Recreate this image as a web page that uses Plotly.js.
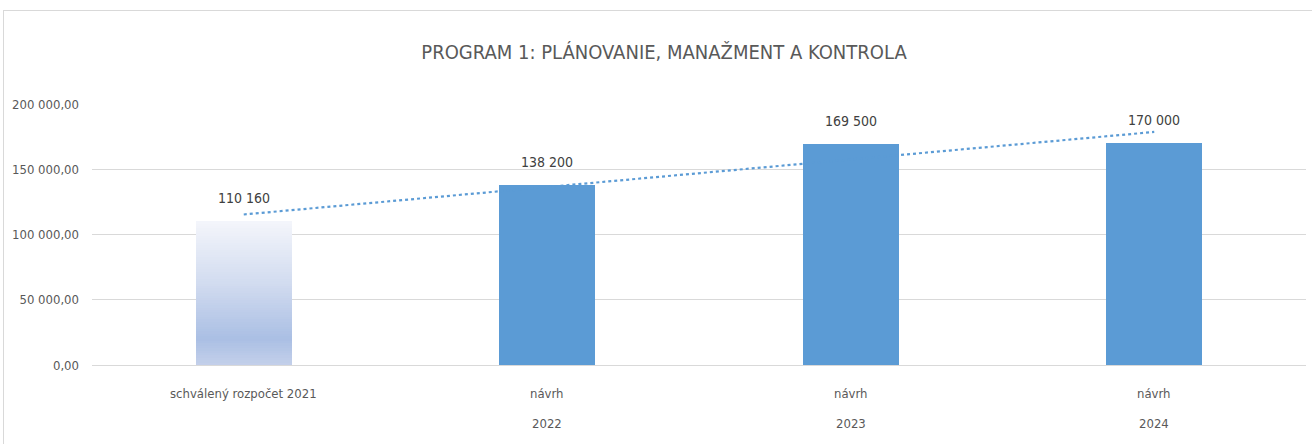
<!DOCTYPE html>
<html>
<head>
<meta charset="utf-8">
<script src="https://cdn.plot.ly/plotly-3.0.1.min.js"></script>
<style>
html,body{margin:0;padding:0;background:#fff;overflow:hidden;}
#chart{position:absolute;left:3px;top:10px;width:1320px;height:450px;border:1px solid #d9d9d9;}
</style>
</head>
<body>
<div id="chart"></div>
<script>
// ---- data ----
const categories = ["schválený rozpočet 2021", "návrh 2022", "návrh 2023", "návrh 2024"];
const labelLine1 = ["schválený rozpočet 2021", "návrh", "návrh", "návrh"];
const labelLine2 = ["", "2022", "2023", "2024"];
const values = [110160, 138200, 169500, 170000];
const yTicks = [0, 50000, 100000, 150000, 200000];

const FONT = "Liberation Sans Narrow, DejaVu Sans Condensed, Arial Narrow, sans-serif";
const BLUE = "#5b9bd5";

// gradient for the first (approved) bar, top -> bottom stops
const gradStops = [[0, [244,246,251]], [0.45, [208,218,239]], [0.82, [170,191,228]], [1, [196,208,234]]];
function gradColor(t) {
  for (let i = 1; i < gradStops.length; i++) {
    if (t <= gradStops[i][0]) {
      const a = gradStops[i-1], b = gradStops[i];
      const f = (t - a[0]) / (b[0] - a[0]);
      const c = a[1].map((v, k) => Math.round(v + (b[1][k] - v) * f));
      return `rgb(${c[0]},${c[1]},${c[2]})`;
    }
  }
  const c = gradStops[gradStops.length-1][1];
  return `rgb(${c[0]},${c[1]},${c[2]})`;
}

const traces = [];
const N = 60;
// first bar drawn as a stack of thin slices (bottom -> top) to imitate gradient
for (let i = 0; i < N; i++) {
  const tFromTop = 1 - (i + 0.5) / N;
  traces.push({
    type: "bar", x: [categories[0]], y: [values[0] / N],
    marker: {color: gradColor(tFromTop), line: {width: 0}},
    width: 0.316, hoverinfo: "skip", showlegend: false
  });
}
// other bars
traces.push({
  type: "bar",
  x: categories.slice(1), y: values.slice(1),
  marker: {color: BLUE, line: {width: 0}},
  width: 0.316, showlegend: false
});

// linear trendline (least squares over category index)
const n = values.length;
const xs = values.map((_, i) => i);
const mx = xs.reduce((a, b) => a + b, 0) / n;
const my = values.reduce((a, b) => a + b, 0) / n;
let sxy = 0, sxx = 0;
xs.forEach((x, i) => { sxy += (x - mx) * (values[i] - my); sxx += (x - mx) * (x - mx); });
const slope = sxy / sxx, icpt = my - slope * mx;
traces.push({
  type: "scatter", mode: "lines",
  x: categories, y: xs.map(x => icpt + slope * x),
  line: {color: BLUE, width: 2.2, dash: "dot"},
  hoverinfo: "skip", showlegend: false
});

const fmt = v => Math.round(v).toString().replace(/\B(?=(\d{3})+(?!\d))/g, " ");

const annotations = [];
categories.forEach((c, i) => {
  annotations.push({x: c, y: values[i], xref: "x", yref: "y", text: fmt(values[i]),
    showarrow: false, yshift: 23, font: {family: FONT, size: 14, color: "#404040"}});
  annotations.push({x: c, y: 0, xref: "x", yref: "y", text: labelLine1[i],
    showarrow: false, yshift: -28, font: {family: FONT, size: 13, color: "#595959"}});
  if (labelLine2[i]) annotations.push({x: c, y: 0, xref: "x", yref: "y", text: labelLine2[i],
    showarrow: false, yshift: -58, font: {family: FONT, size: 13, color: "#595959"}});
});

const layout = {
  width: 1320, height: 450,
  margin: {l: 88, r: 18, t: 93, b: 96},
  paper_bgcolor: "#fff", plot_bgcolor: "#fff",
  separators: ", ",
  barmode: "stack", bargap: 0.684,
  font: {family: FONT, size: 13, color: "#595959"},
  title: {text: "PROGRAM 1: PLÁNOVANIE, MANAŽMENT A KONTROLA", xref: "container", x: 0.5,
    yref: "container", y: 0.909, yanchor: "middle",
    font: {family: FONT, size: 20, color: "#595959"}},
  xaxis: {type: "category", categoryarray: categories, showticklabels: false,
    showgrid: false, zeroline: false, showline: false, ticks: "", fixedrange: true},
  yaxis: {range: [0, 200000], tickvals: yTicks, tickformat: ",.2f",
    showgrid: true, gridcolor: "#d9d9d9", gridwidth: 1, zeroline: true, zerolinecolor: "#d9d9d9",
    zerolinewidth: 1, showline: false, ticks: "", ticklabelstandoff: 12,
    tickfont: {family: FONT, size: 13, color: "#595959"}},
  annotations: annotations,
  showlegend: false
};

Plotly.newPlot("chart", traces, layout, {displayModeBar: false, staticPlot: true});
</script>
</body>
</html>
